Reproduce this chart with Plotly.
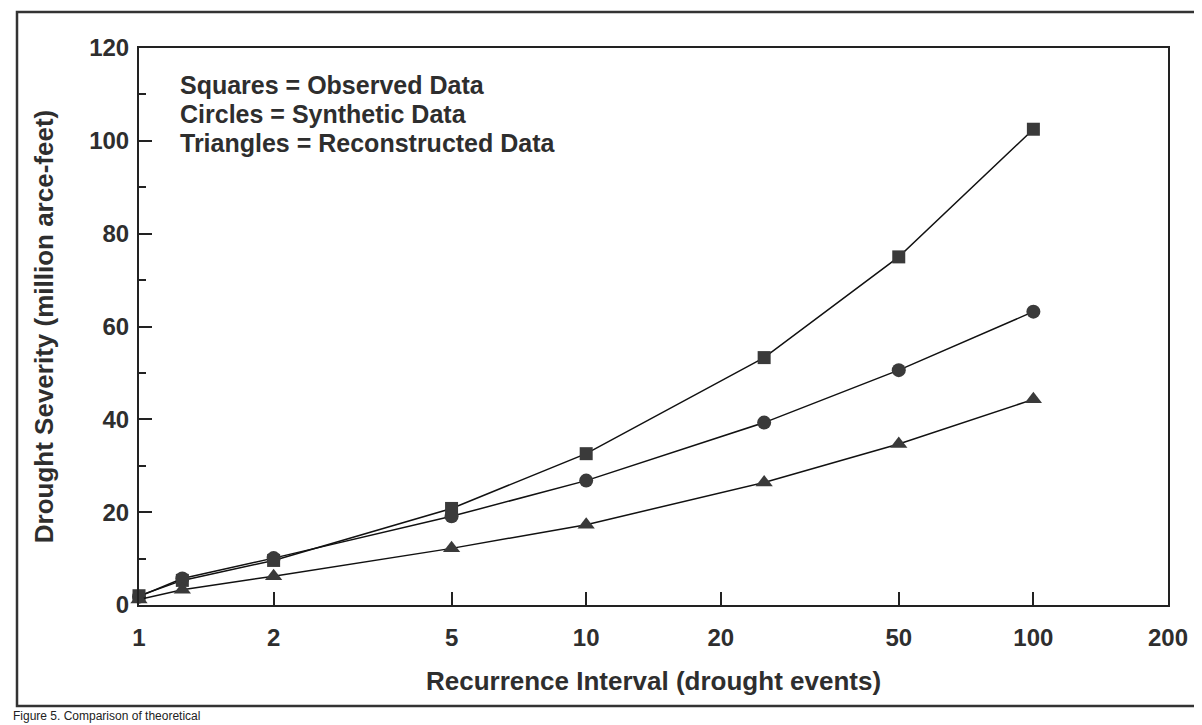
import math
import plotly.graph_objects as go

# Recurrence interval (drought events)
recurrence = [1, 1.25, 2, 5, 10, 25, 50, 100]
# Drought severity (million acre-feet)
observed = [2.0, 5.3, 9.6, 20.8, 32.6, 53.3, 75.0, 102.5]
synthetic = [1.8, 5.7, 10.1, 19.1, 26.8, 39.3, 50.6, 63.2]
reconstructed = [1.2, 3.3, 6.2, 12.2, 17.3, 26.4, 34.7, 44.3]

x_tickvals = [1, 2, 5, 10, 20, 50, 100, 200]
x_ticktext = ["1", "2", "5", "10", "20", "50", "100", "200"]
y_tickvals = [0, 20, 40, 60, 80, 100, 120]

legend_lines = [
    "Squares = Observed Data",
    "Circles = Synthetic Data",
    "Triangles = Reconstructed Data",
]

INK = "#2e2e2e"
FONT = "Liberation Sans, Arial, sans-serif"

fig = go.Figure()
series = [
    ("Observed", observed, "square", 13),
    ("Synthetic", synthetic, "circle", 14),
    ("Reconstructed", reconstructed, "triangle-up", 15),
]
for name, vals, sym, size in series:
    fig.add_trace(go.Scatter(
        x=recurrence, y=vals, name=name, mode="lines+markers",
        line=dict(color="#111111", width=1.5),
        marker=dict(symbol=sym, size=size, color="#3a3a3a",
                    line=dict(width=0)),
        showlegend=False, cliponaxis=False,
    ))

# the page body adds an 8px offset; work in screen pixels and shift
OFF = 8
W, H = 1202 - OFF, 725 - OFF
# plot area in screen pixels
L, R, T, B = 139, 1168, 48, 605
pw, ph = R - L, B - T

def px_to_paper_x(px):
    return (px - L) / pw

def px_to_paper_y(py):
    return (B - py) / ph

fig.update_layout(
    width=W, height=H,
    margin=dict(l=L - OFF, r=W - (R - OFF), t=T - OFF, b=H - (B - OFF),
                pad=0, autoexpand=False),
    paper_bgcolor="white", plot_bgcolor="white",
    font=dict(family=FONT, color=INK),
    xaxis=dict(
        type="log", range=[0, math.log10(200)],
        tickvals=x_tickvals, ticktext=x_ticktext,
        ticks="inside", ticklen=13, tickwidth=1.5, tickcolor="#222",
        showgrid=False, zeroline=False, automargin=False,
        showline=True, linecolor="#222", linewidth=2, mirror=True,
        ticklabelstandoff=10,
        tickfont=dict(family=FONT, size=24, color=INK, weight="bold"),
        title=dict(text="<b>Recurrence Interval (drought events)</b>",
                   font=dict(family=FONT, size=26, color=INK), standoff=22),
    ),
    yaxis=dict(
        range=[0, 120], tickvals=y_tickvals,
        ticks="inside", ticklen=13, tickwidth=1.5, tickcolor="#222",
        minor=dict(dtick=10, ticks="inside", ticklen=7, tickwidth=1.5, tickcolor="#222"),
        showgrid=False, zeroline=False, automargin=False,
        showline=True, linecolor="#222", linewidth=2, mirror=True,
        ticklabelstandoff=3,
        tickfont=dict(family=FONT, size=24, color=INK, weight="bold"),
        title=dict(text="<b>Drought Severity (million arce-feet)</b>",
                   font=dict(family=FONT, size=26, color=INK), standoff=28),
    ),
)

# legend text block
for i, txt in enumerate(legend_lines):
    fig.add_annotation(
        xref="paper", yref="paper",
        x=px_to_paper_x(178), y=px_to_paper_y(85 + 29 * i),
        xanchor="left", yanchor="middle", showarrow=False,
        text="<b>" + txt + "</b>",
        font=dict(family=FONT, size=25, color=INK),
    )

# outer frame
fig.add_shape(
    type="rect", xref="paper", yref="paper",
    x0=px_to_paper_x(17), x1=px_to_paper_x(1196),
    y0=px_to_paper_y(706), y1=px_to_paper_y(12),
    line=dict(color="#333", width=2.5), fillcolor="rgba(0,0,0,0)", layer="below",
)

# caption below the frame
fig.add_annotation(
    xref="paper", yref="paper",
    x=px_to_paper_x(11), y=px_to_paper_y(707),
    xanchor="left", yanchor="top", showarrow=False,
    text="Figure 5. Comparison of theoretical",
    font=dict(family=FONT, size=12, color="#222"),
)

fig.write_html("out.html")
